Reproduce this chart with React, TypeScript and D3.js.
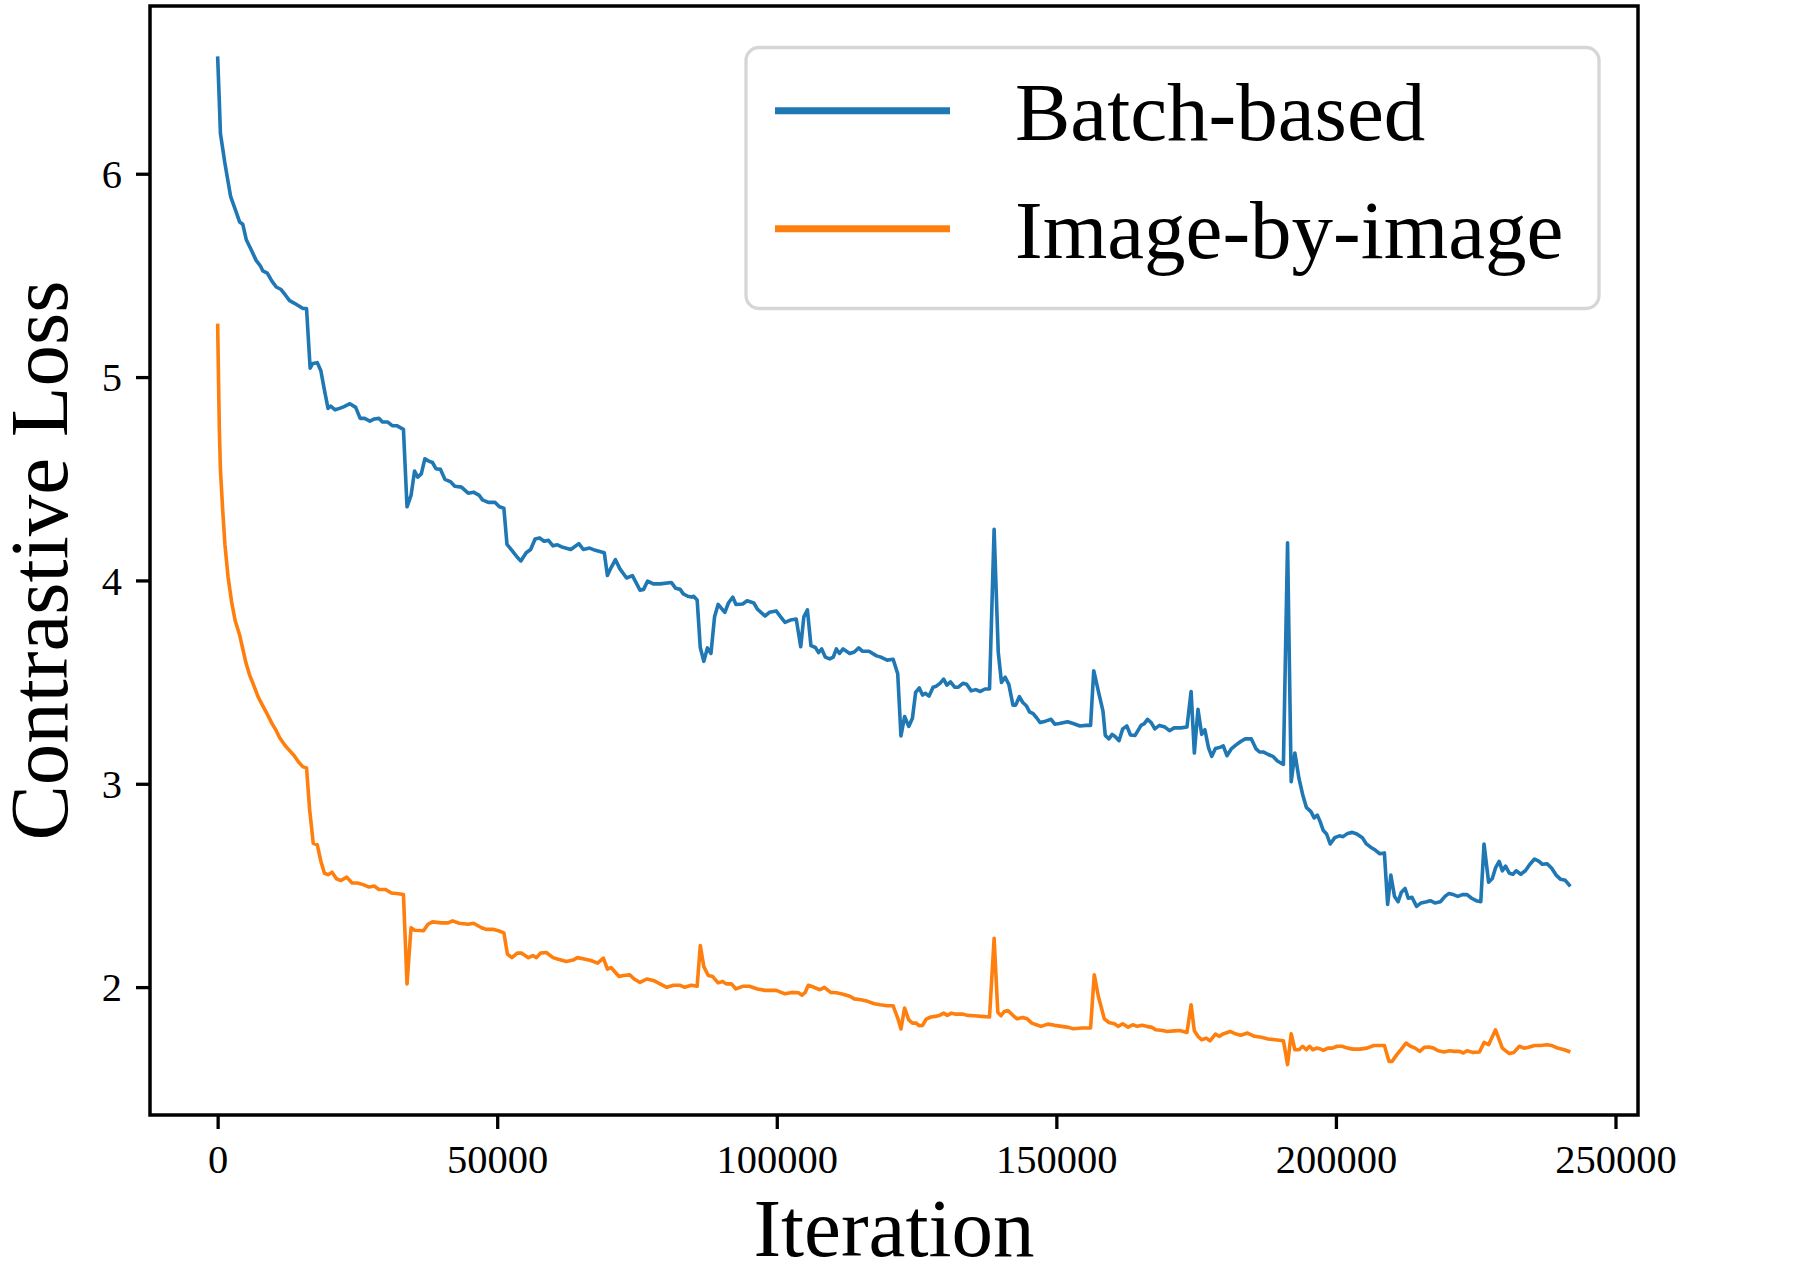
import { useEffect, useRef } from 'react'
import * as d3 from 'd3'

const batchIter = [
  0, 300, 500, 1300, 1860, 2330, 3130, 3930, 4490, 5130, 5850, 6890, 7680, 8080, 8880, 9680,
  10480, 11280, 12070, 12870, 13670, 14470, 15270, 15900, 16540, 17020, 17820, 18460, 19100,
  19740, 20220, 21010, 21810, 22610, 23650, 24690, 25490, 26280, 27240, 28040, 28840, 29480,
  30430, 31230, 32030, 33230, 33870, 34590, 35220, 35780, 36420, 37060, 37780, 38420, 39060,
  39860, 40650, 41610, 42410, 43610, 44800, 45760, 46800, 47360, 48400, 49590, 50390, 51190,
  51750, 52630, 53590, 54230, 55180, 55980, 56780, 57580, 58380, 59170, 59970, 60770, 61730,
  63170, 64600, 65400, 66520, 67560, 69150, 69710, 70350, 71150, 71950, 73140, 74180, 75540,
  76180, 76900, 77930, 79130, 81130, 81930, 82720, 83280, 84080, 84720, 85120, 85760, 86320,
  86950, 87590, 88230, 88870, 89510, 90710, 91350, 92140, 92700, 93900, 94700, 95900, 96530,
  97890, 98690, 99890, 100690, 101480, 102440, 103480, 104280, 104840, 105480, 106110, 106910,
  107470, 108030, 108670, 109470, 110100, 110660, 111220, 111860, 113060, 113860, 114660,
  115290, 116490, 117850, 118510, 119740, 120810, 121630, 122210, 122860, 123600, 124260,
  124830, 125490, 126070, 126560, 127220, 127950, 128530, 129190, 129840, 130420, 131070,
  131810, 132470, 133290, 133950, 134770, 135590, 136410, 137230, 138050, 138870, 139610,
  140190, 140850, 141500, 142240, 142730, 143390, 143970, 144620, 145200, 145850, 146430,
  147090, 148070, 149060, 149710, 150540, 152010, 153000, 154230, 155300, 156120, 156690,
  157520, 158340, 158750, 159400, 159980, 160550, 161210, 161870, 162610, 163260, 164080,
  165150, 165730, 166300, 166960, 167610, 168440, 169420, 170240, 171060, 172300, 173360,
  174100, 174680, 175330, 175990, 176560, 177220, 177800, 178450, 179270, 179850, 180510,
  181330, 182150, 182970, 183790, 184860, 185680, 186340, 187080, 187900, 188720, 189540,
  190610, 191350, 192000, 192660, 193400, 194060, 194710, 195530, 196110, 196680, 197180,
  197750, 198330, 198980, 199800, 200620, 201280, 202100, 202920, 203740, 204730, 205390,
  206210, 207030, 207850, 208670, 209250, 209820, 210480, 211130, 211710, 212370, 212940,
  213600, 214420, 215240, 216220, 216880, 217700, 218690, 219510, 220170, 220990, 221810,
  222630, 223450, 224270, 225090, 225910, 226490, 227310, 227970, 228540, 229200, 229770,
  230350, 231010, 231660, 232240, 233060, 233880, 234700, 235520, 236340, 236920, 237740,
  238560, 239380, 240200, 241020, 241930,
]
const batchLoss = [
  6.577, 6.356, 6.198, 6.052, 5.962, 5.887, 5.826, 5.763, 5.752, 5.675, 5.635, 5.574, 5.545,
  5.522, 5.511, 5.473, 5.443, 5.432, 5.405, 5.376, 5.364, 5.351, 5.337, 5.337, 5.044, 5.067,
  5.071, 5.031, 4.936, 4.846, 4.857, 4.839, 4.846, 4.855, 4.869, 4.851, 4.797, 4.797, 4.783,
  4.794, 4.797, 4.779, 4.779, 4.761, 4.761, 4.743, 4.362, 4.418, 4.538, 4.508, 4.524, 4.598,
  4.587, 4.58, 4.549, 4.546, 4.497, 4.486, 4.463, 4.459, 4.429, 4.434, 4.418, 4.396, 4.384,
  4.384, 4.362, 4.355, 4.177, 4.148, 4.114, 4.096, 4.136, 4.152, 4.204, 4.209, 4.193, 4.197,
  4.17, 4.175, 4.163, 4.152, 4.181, 4.152, 4.159, 4.148, 4.136, 4.024, 4.062, 4.102, 4.057,
  4.012, 4.024, 3.952, 3.956, 3.997, 3.983, 3.983, 3.99, 3.961, 3.956, 3.934, 3.922, 3.918,
  3.922, 3.904, 3.67, 3.602, 3.668, 3.641, 3.821, 3.882, 3.843, 3.889, 3.918, 3.882, 3.884,
  3.9, 3.889, 3.859, 3.825, 3.843, 3.85, 3.821, 3.794, 3.805, 3.81, 3.674, 3.821, 3.855, 3.679,
  3.67, 3.645, 3.663, 3.623, 3.614, 3.623, 3.663, 3.641, 3.663, 3.641, 3.648, 3.668, 3.652,
  3.652, 3.629, 3.624, 3.608, 3.612, 3.541, 3.235, 3.331, 3.282, 3.322, 3.449, 3.471, 3.436,
  3.445, 3.431, 3.475, 3.48, 3.494, 3.515, 3.485, 3.501, 3.475, 3.475, 3.494, 3.489, 3.457,
  3.463, 3.454, 3.466, 3.466, 4.251, 3.647, 3.498, 3.524, 3.489, 3.387, 3.387, 3.428, 3.401,
  3.384, 3.354, 3.345, 3.326, 3.301, 3.308, 3.317, 3.293, 3.296, 3.305, 3.296, 3.284, 3.287,
  3.287, 3.556, 3.454, 3.357, 3.238, 3.221, 3.243, 3.231, 3.212, 3.27, 3.284, 3.24, 3.238,
  3.287, 3.296, 3.317, 3.301, 3.27, 3.287, 3.279, 3.261, 3.275, 3.275, 3.279, 3.454, 3.151,
  3.366, 3.243, 3.266, 3.177, 3.135, 3.173, 3.179, 3.186, 3.138, 3.173, 3.191, 3.208, 3.221,
  3.221, 3.173, 3.156, 3.156, 3.144, 3.135, 3.112, 3.095, 4.185, 3.01, 3.151, 3.025, 2.946,
  2.884, 2.863, 2.832, 2.846, 2.814, 2.77, 2.753, 2.704, 2.735, 2.744, 2.74, 2.756, 2.761,
  2.753, 2.735, 2.706, 2.688, 2.674, 2.656, 2.66, 2.407, 2.551, 2.446, 2.42, 2.467, 2.485,
  2.437, 2.442, 2.397, 2.414, 2.42, 2.425, 2.414, 2.42, 2.446, 2.46, 2.455, 2.446, 2.455,
  2.455, 2.437, 2.425, 2.42, 2.704, 2.516, 2.534, 2.586, 2.618, 2.572, 2.595, 2.56, 2.555,
  2.572, 2.555, 2.572, 2.604, 2.63, 2.618, 2.604, 2.607, 2.586, 2.551, 2.53, 2.525, 2.495,
]

const imageIter = [
  0, 300, 500, 900, 1300, 1860, 2490, 3130, 3930, 4490, 5050, 5690, 6490, 7280, 8080, 8880,
  9680, 10480, 11120, 12070, 12870, 13670, 14470, 15270, 15900, 16460, 17100, 17820, 18460,
  19100, 19740, 20460, 21250, 22050, 23090, 24050, 25010, 26040, 27080, 28040, 28840, 30030,
  31070, 32030, 33230, 33870, 34590, 35220, 36820, 37620, 38420, 40010, 41210, 42010, 43210,
  44800, 45760, 47200, 48000, 49200, 50230, 51190, 51830, 52630, 53590, 54380, 55580, 56380,
  57020, 57740, 58780, 59970, 60770, 62370, 63560, 64360, 65560, 66760, 67950, 68990, 69710,
  70350, 70990, 71790, 72590, 73700, 74500, 75540, 76740, 77930, 79130, 80330, 81530, 82720,
  83520, 84720, 85760, 86320, 86950, 87750, 88550, 89510, 90310, 90950, 91900, 92700, 93900,
  95100, 96530, 97890, 99890, 101480, 102680, 103880, 104520, 105080, 105640, 106670, 107710,
  108510, 109630, 110660, 111860, 113060, 113860, 115050, 116250, 117450, 118510, 119740,
  120810, 121630, 122210, 122860, 123600, 124260, 124920, 125490, 126070, 126720, 127540,
  128360, 129190, 129840, 130500, 131240, 132060, 133290, 134110, 135340, 136580, 138050,
  138870, 139530, 140110, 140680, 141340, 142320, 142980, 143970, 144790, 145610, 146430,
  147250, 148480, 149710, 150950, 152180, 153000, 154640, 156120, 156780, 157520, 158580,
  159400, 160390, 161050, 161870, 162850, 163670, 164490, 165320, 166140, 167120, 167780,
  169010, 169830, 171060, 172050, 173360, 174100, 174680, 175330, 175990, 176810, 177470,
  178450, 179110, 179930, 181080, 182150, 182970, 184200, 185430, 186660, 187900, 189130,
  190610, 191350, 192000, 192660, 193400, 194060, 194710, 195290, 195860, 196520, 197180,
  197750, 198570, 199390, 200210, 201040, 202100, 203090, 204320, 205550, 206780, 207600,
  208670, 209490, 210070, 210890, 211710, 212530, 213350, 214170, 214990, 215810, 216640,
  217460, 218280, 219340, 220330, 221150, 222140, 222790, 223450, 224440, 225670, 226490,
  227310, 228540, 229770, 231010, 231830, 232810, 233630, 234450, 235520, 236590, 237740,
  238560, 239630, 240860, 241930,
]
const imageLoss = [
  5.263, 4.751, 4.543, 4.348, 4.177, 4.018, 3.896, 3.803, 3.732, 3.664, 3.596, 3.537, 3.481,
  3.425, 3.383, 3.342, 3.298, 3.261, 3.225, 3.188, 3.163, 3.139, 3.107, 3.083, 3.078, 2.871,
  2.707, 2.7, 2.619, 2.56, 2.553, 2.565, 2.533, 2.524, 2.541, 2.512, 2.512, 2.504, 2.492,
  2.497, 2.48, 2.48, 2.463, 2.46, 2.455, 2.016, 2.292, 2.28, 2.277, 2.309, 2.321, 2.316, 2.316,
  2.326, 2.314, 2.309, 2.314, 2.292, 2.284, 2.284, 2.277, 2.267, 2.162, 2.145, 2.167, 2.167,
  2.145, 2.155, 2.145, 2.167, 2.17, 2.145, 2.138, 2.126, 2.133, 2.145, 2.138, 2.131, 2.118,
  2.143, 2.089, 2.096, 2.077, 2.052, 2.057, 2.06, 2.04, 2.023, 2.04, 2.033, 2.016, 1.999, 2.009,
  2.009, 1.999, 2.009, 2.004, 2.204, 2.101, 2.057, 2.052, 2.021, 2.028, 2.016, 2.016, 1.991,
  2.004, 2.004, 1.991, 1.984, 1.984, 1.967, 1.974, 1.972, 1.96, 1.974, 2.009, 1.999, 1.987,
  1.999, 1.974, 1.972, 1.965, 1.955, 1.942, 1.938, 1.93, 1.918, 1.913, 1.908, 1.908, 1.848,
  1.794, 1.897, 1.839, 1.823, 1.823, 1.81, 1.812, 1.843, 1.853, 1.856, 1.862, 1.872, 1.861,
  1.872, 1.867, 1.867, 1.861, 1.859, 1.856, 1.853, 2.24, 1.876, 1.859, 1.88, 1.885, 1.859,
  1.844, 1.851, 1.844, 1.823, 1.815, 1.807, 1.818, 1.812, 1.807, 1.802, 1.795, 1.799, 1.799,
  2.06, 1.954, 1.844, 1.826, 1.82, 1.807, 1.82, 1.803, 1.815, 1.807, 1.812, 1.807, 1.802, 1.79,
  1.787, 1.782, 1.785, 1.787, 1.777, 1.913, 1.785, 1.758, 1.741, 1.749, 1.736, 1.769, 1.758,
  1.771, 1.782, 1.769, 1.763, 1.774, 1.758, 1.753, 1.745, 1.741, 1.736, 1.619, 1.771, 1.692,
  1.692, 1.709, 1.692, 1.709, 1.692, 1.7, 1.697, 1.689, 1.7, 1.7, 1.709, 1.709, 1.7, 1.695,
  1.695, 1.7, 1.713, 1.713, 1.713, 1.635, 1.635, 1.668, 1.695, 1.725, 1.709, 1.7, 1.684, 1.704,
  1.705, 1.7, 1.687, 1.681, 1.687, 1.684, 1.684, 1.676, 1.687, 1.679, 1.681, 1.728, 1.717,
  1.79, 1.7, 1.673, 1.679, 1.709, 1.7, 1.704, 1.713, 1.713, 1.717, 1.713, 1.7, 1.692, 1.681,
]

const seriesNames = ['Batch-based', 'Image-by-image']
const seriesColors = ['#1f77b4', '#ff7f0e']
const xTicks = [0, 50000, 100000, 150000, 200000, 250000]
const yTicks = [2, 3, 4, 5, 6]

function App() {
  const width = 1804
  const height = 1266
  const left = 150
  const right = 1638
  const top = 6
  const bottom = 1115
  const font = '"Liberation Serif", "Times New Roman", serif'

  const xAxisRef = useRef<SVGGElement>(null)
  const yAxisRef = useRef<SVGGElement>(null)

  const xMax = d3.max([...batchIter, ...imageIter]) as number
  const yMin = d3.min([...batchLoss, ...imageLoss]) as number
  const yMax = d3.max([...batchLoss, ...imageLoss]) as number
  const xPad = xMax * 0.05
  const yPad = (yMax - yMin) * 0.05

  const x = d3.scaleLinear().domain([-xPad, xMax + xPad]).range([left, right])
  const y = d3.scaleLinear().domain([yMin - yPad, yMax + yPad]).range([bottom, top])

  const line = d3
    .line<[number, number]>()
    .x(d => x(d[0]))
    .y(d => y(d[1]))

  const batchPts = batchIter.map((it, i) => [it, batchLoss[i]] as [number, number])
  const imagePts = imageIter.map((it, i) => [it, imageLoss[i]] as [number, number])

  useEffect(() => {
    const gx = d3.select(xAxisRef.current!)
    gx.call(d3.axisBottom(x).tickValues(xTicks).tickFormat(d3.format('d')).tickSize(14))
    gx.select('.domain').remove()
    gx.selectAll('line').attr('stroke', '#000').attr('stroke-width', 3.3)
    gx.selectAll('text')
      .attr('y', 58)
      .attr('dy', 0)
      .attr('font-family', font)
      .attr('font-size', 40.5)
      .attr('fill', '#000')

    const gy = d3.select(yAxisRef.current!)
    gy.call(d3.axisLeft(y).tickValues(yTicks).tickFormat(d3.format('d')).tickSize(14))
    gy.select('.domain').remove()
    gy.selectAll('line').attr('stroke', '#000').attr('stroke-width', 3.3)
    gy.selectAll('text')
      .attr('x', -28)
      .attr('dy', '0.34em')
      .attr('font-family', font)
      .attr('font-size', 40.5)
      .attr('fill', '#000')
  }, [])

  return (
    <div>
      <svg
        width={width}
        height={height}
        style={{ position: 'absolute', left: 0, top: 0, display: 'block', background: '#fff' }}
      >
        <rect x={0} y={0} width={width} height={height} fill="#fff" />

        <g>
          <path d={line(batchPts) as string} fill="none" stroke={seriesColors[0]} strokeWidth={3.6} strokeLinejoin="round" />
          <path d={line(imagePts) as string} fill="none" stroke={seriesColors[1]} strokeWidth={3.6} strokeLinejoin="round" />
        </g>

        <rect x={left} y={top} width={right - left} height={bottom - top} fill="none" stroke="#000" strokeWidth={3.5} />

        <g ref={xAxisRef} transform={`translate(0,${bottom})`} />
        <g ref={yAxisRef} transform={`translate(${left},0)`} />

        <text x={(left + right) / 2} y={1256} textAnchor="middle" fontFamily={font} fontSize={83}>
          Iteration
        </text>
        <text
          transform={`translate(67,${(top + bottom) / 2}) rotate(-90)`}
          textAnchor="middle"
          fontFamily={font}
          fontSize={83}
        >
          Contrastive Loss
        </text>

        {/* legend */}
        <g>
          <rect x={746} y={47.5} width={853} height={261} rx={13} ry={13} fill="#fff" fillOpacity={0.8} stroke="#d6d6d6" strokeWidth={3.3} />
          {seriesNames.map((name, i) => (
            <g key={name} transform={`translate(0,${110.7 + i * 118})`}>
              <line x1={775} x2={950} y1={0} y2={0} stroke={seriesColors[i]} strokeWidth={7} />
              <text x={1015} y={29} fontFamily={font} fontSize={83}>
                {name}
              </text>
            </g>
          ))}
        </g>
      </svg>
    </div>
  )
}

export default App
